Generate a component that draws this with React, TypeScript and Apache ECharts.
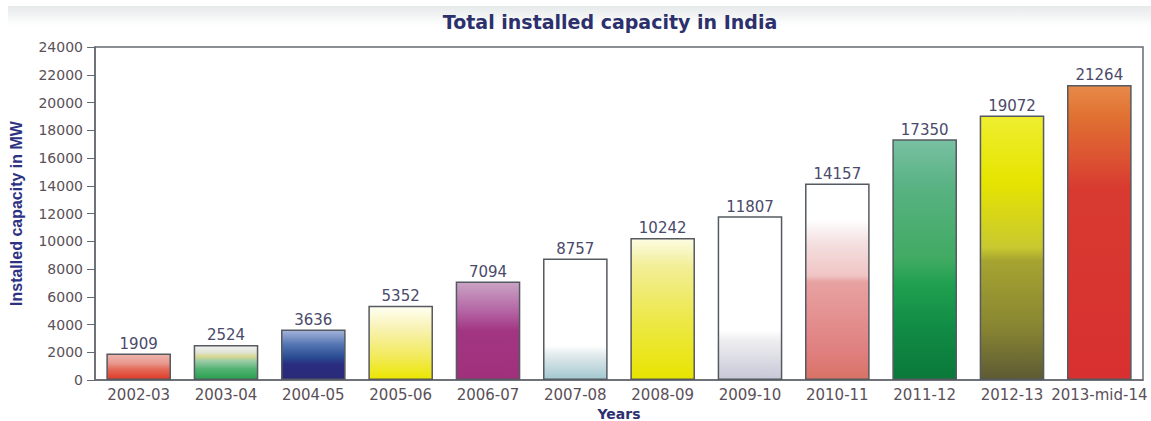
import React, { useEffect, useRef } from "react";
import * as echarts from "echarts";

const categories = [
  "2002-03", "2003-04", "2004-05", "2005-06", "2006-07", "2007-08",
  "2008-09", "2009-10", "2010-11", "2011-12", "2012-13", "2013-mid-14",
];
const capacityMW = [1909, 2524, 3636, 5352, 7094, 8757, 10242, 11807, 14157, 17350, 19072, 21264];
const yTicks = { min: 0, max: 24000, interval: 2000 };

// gradient stops per bar (top -> bottom)
const barGradients: [number, string][][] = [
  [[0, "#eeb4ac"], [0.35, "#e89a90"], [0.6, "#e46a58"], [1, "#e03a28"]],
  [[0, "#f2f2f2"], [0.2, "#dfe4d4"], [0.32, "#d8d890"], [0.45, "#9ccca6"], [0.7, "#52b272"], [1, "#2aa04e"]],
  [[0, "#a4b4da"], [0.3, "#5274b2"], [0.55, "#2a4c92"], [0.7, "#2a2c80"], [1, "#2a2a78"]],
  [[0, "#fffff2"], [0.3, "#f8f2b4"], [0.7, "#f2ea58"], [1, "#ece600"]],
  [[0, "#caa4c4"], [0.3, "#b464a4"], [0.5, "#a23682"], [1, "#a0307c"]],
  [[0, "#ffffff"], [0.72, "#ffffff"], [0.8, "#e2eaec"], [1, "#a2c8d0"]],
  [[0, "#fcfce2"], [0.2, "#f2ee96"], [0.6, "#ece844"], [1, "#e8e400"]],
  [[0, "#ffffff"], [0.7, "#ffffff"], [0.76, "#eeeef0"], [1, "#c8c8d8"]],
  [[0, "#ffffff"], [0.18, "#ffffff"], [0.3, "#f4e0e0"], [0.47, "#f0c4c4"], [0.5, "#e8a2a2"], [0.85, "#e08080"], [1, "#d87266"]],
  [[0, "#78c0a2"], [0.2, "#58b282"], [0.5, "#40aa62"], [0.6, "#20a050"], [0.8, "#108a44"], [1, "#0a783a"]],
  [[0, "#eeee30"], [0.25, "#e6e400"], [0.5, "#c8c830"], [0.55, "#a6a430"], [0.8, "#888632"], [1, "#5e5a34"]],
  [[0, "#e88a4a"], [0.1, "#e07232"], [0.25, "#dc5232"], [0.35, "#d83a30"], [1, "#d83030"]],
];

export default function App() {
  const ref = useRef<HTMLDivElement>(null);
  useEffect(() => {
    if (!ref.current) return;
    const chart = echarts.init(ref.current, undefined, { renderer: "svg" });
    const font = "DejaVu Sans";
    chart.setOption({
      animation: false,
      backgroundColor: "#ffffff",
      graphic: [
        {
          type: "rect",
          z: -1,
          shape: { x: 8, y: 6, width: 1143, height: 20 },
          style: {
            fill: new echarts.graphic.LinearGradient(0, 0, 0, 1, [
              { offset: 0, color: "#e6eaea" },
              { offset: 1, color: "#ffffff" },
            ]),
          },
        },
      ],
      title: {
        text: "Total installed capacity in India",
        left: 605,
        textAlign: "center",
        top: 7,
        textStyle: { fontFamily: font, fontWeight: "bold", fontSize: 19, color: "#2c306c" },
      },
      grid: {
        left: 95,
        right: 8,
        top: 47,
        bottom: 41,
        containLabel: false,
        outerBoundsMode: "none",
        show: true,
        borderColor: "#666a70",
        borderWidth: 1.5,
        backgroundColor: "transparent",
      },
      xAxis: {
        type: "category",
        data: categories,
        name: "Years",
        nameLocation: "middle",
        nameGap: 22,
        nameTextStyle: { fontFamily: font, fontWeight: "bold", fontSize: 14, color: "#2c306c" },
        axisLine: { lineStyle: { color: "#666a70", width: 1.5 } },
        axisTick: { alignWithLabel: true, length: 6, lineStyle: { color: "#666a70" } },
        axisLabel: { interval: 0, hideOverlap: false, fontFamily: font, fontSize: 15, color: "#5a5058", margin: 7 },
      },
      yAxis: {
        type: "value",
        min: yTicks.min,
        max: yTicks.max,
        interval: yTicks.interval,
        name: "Installed capacity in MW",
        nameLocation: "middle",
        nameGap: 71,
        nameTextStyle: {
          fontFamily: "Liberation Sans",
          fontWeight: "bold",
          fontSize: 16,
          color: "#2e3282",
        },
        axisLine: { show: true, lineStyle: { color: "#666a70", width: 1.5 } },
        axisTick: { show: true, length: 8, lineStyle: { color: "#666a70" } },
        splitLine: { show: false },
        axisLabel: {
          fontFamily: font,
          fontSize: 14,
          color: "#5a5058",
          margin: 12,
          formatter: (v: number) => String(v),
        },
      },
      series: [
        {
          type: "bar",
          barWidth: "74%",
          data: capacityMW.map((v, i) => ({
            value: v,
            itemStyle: {
              color: new echarts.graphic.LinearGradient(
                0, 0, 0, 1,
                barGradients[i].map(([offset, color]) => ({ offset, color }))
              ),
              borderColor: "#555a60",
              borderWidth: 1.5,
            },
          })),
          label: {
            show: true,
            position: "top",
            distance: 2,
            fontFamily: font,
            fontSize: 15,
            color: "#4a4a6a",
          },
        },
      ],
    });
    return () => chart.dispose();
  }, []);
  return (
    <div
      ref={ref}
      style={{ position: "fixed", left: 0, top: 0, width: 1151, height: 421 }}
    />
  );
}
